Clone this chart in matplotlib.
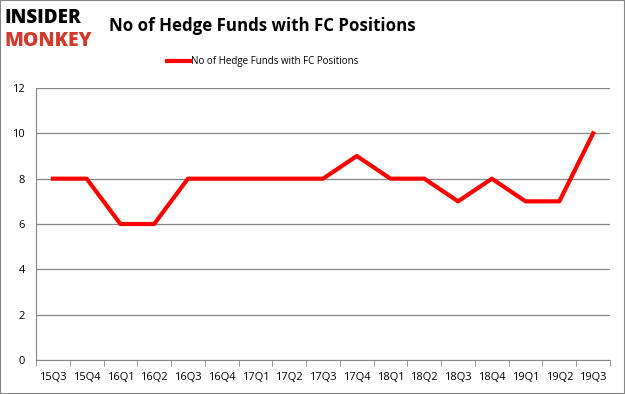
import matplotlib
matplotlib.use('Agg')
from matplotlib import pyplot as plt
from matplotlib.patches import Rectangle

quarters = ['15Q3', '15Q4', '16Q1', '16Q2', '16Q3', '16Q4', '17Q1', '17Q2', '17Q3',
            '17Q4', '18Q1', '18Q2', '18Q3', '18Q4', '19Q1', '19Q2', '19Q3']
funds = [8, 8, 6, 6, 8, 8, 8, 8, 8, 9, 8, 8, 7, 8, 7, 7, 10]
series_name = 'No of Hedge Funds with FC Positions'
yticks = [0, 2, 4, 6, 8, 10, 12]

plt.rcParams['font.family'] = ['Open Sans', 'DejaVu Sans']

fig = plt.figure(figsize=(6.25, 3.94), dpi=100)
ax = fig.add_axes([0.0576, 0.0863, 0.9184, 0.6903])

x = list(range(len(quarters)))
line, = ax.plot(x, funds, color='#ff0000', lw=3, solid_joinstyle='round')

ax.set_xlim(-0.5, len(quarters) - 0.5)
ax.set_ylim(0, 12)
ax.set_yticks(yticks)
ax.set_yticklabels([str(v) for v in yticks], fontsize=8)
ax.set_xticks(x)
ax.set_xticklabels(quarters, fontsize=8)
ax.set_xticks([i - 0.5 for i in range(len(quarters) + 1)], minor=True)
ax.tick_params(axis='x', which='major', length=0, pad=9)
ax.tick_params(axis='x', which='minor', length=4, color='#868686')
ax.tick_params(axis='y', length=0, pad=8)
ax.grid(axis='y', color='#868686', lw=0.9)
ax.set_axisbelow(True)
for side in ['top', 'right']:
    ax.spines[side].set_visible(False)
ax.spines['left'].set_color('#868686')
ax.spines['bottom'].set_color('#868686')

fig.text(0.419, 0.935, series_name, ha='center', va='center',
         fontsize=12.2, fontweight='bold')
fig.text(0.008, 0.955, 'INSIDER', ha='left', va='center', fontsize=13.5,
         fontweight='heavy', color='black')
fig.text(0.008, 0.895, 'MONKEY', ha='left', va='center', fontsize=14,
         fontweight='heavy', color='#d13b2b')

fig.legend([line], [series_name], loc='center', bbox_to_anchor=(0.42, 0.843),
           frameon=False, fontsize=7, handlelength=2.4, handletextpad=0.1)

fig.patches.append(Rectangle((0, 0), 1, 1, transform=fig.transFigure,
                             fill=False, edgecolor='#868686', lw=1.5))

fig.savefig('out.png', dpi=100)
